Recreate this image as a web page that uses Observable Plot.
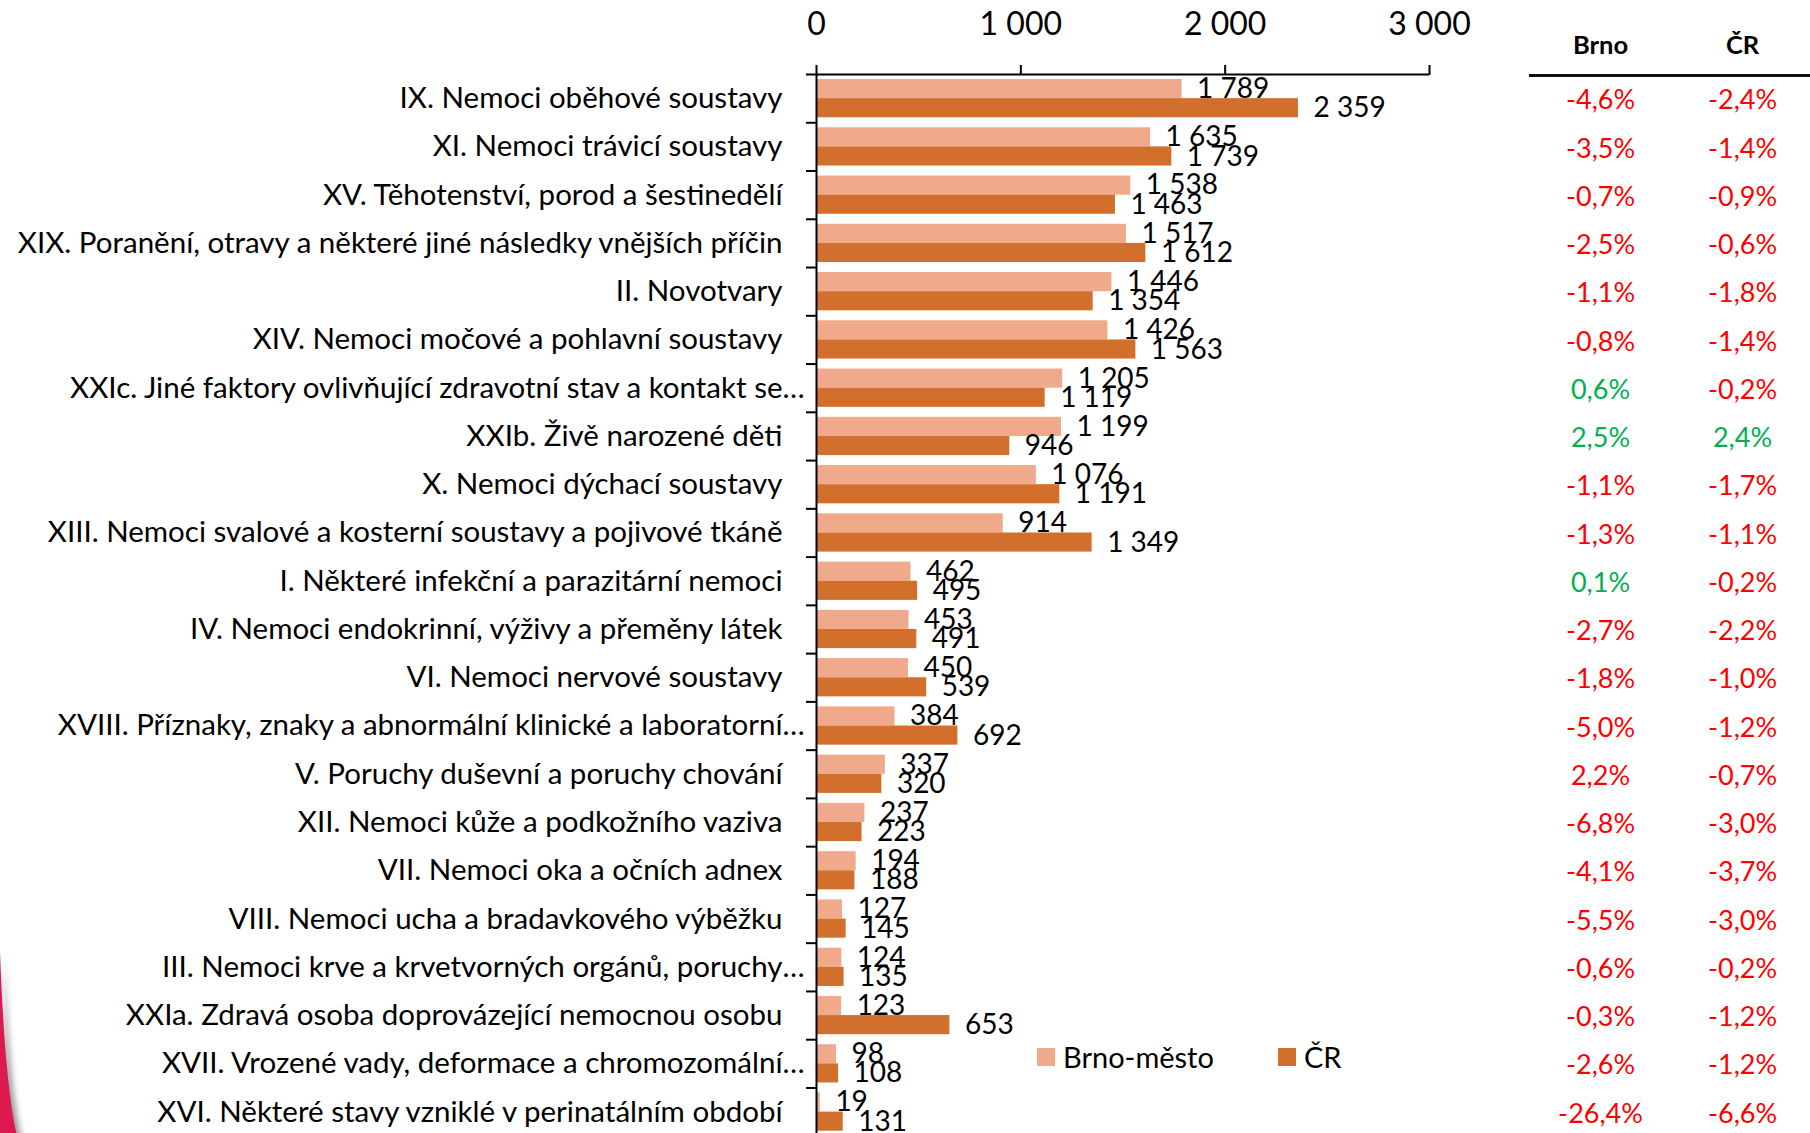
<!DOCTYPE html>
<html>
<head>
<meta charset="utf-8">
<script src="https://cdn.jsdelivr.net/npm/d3@7"></script>
<script src="https://cdn.jsdelivr.net/npm/@observablehq/plot@0.6"></script>
<style>
  html, body { margin: 0; padding: 0; background: #fff; }
  #wrap { position: relative; width: 1810px; height: 1133px; overflow: hidden; font-family: Lato, sans-serif; background: #fff; }
  #chart, #table { position: absolute; top: 0; }
  #chart { left: 0; }
  #table { left: 1529px; }
  #legend { position: absolute; left: 1037px; top: 1042px; display: flex; align-items: center; font-size: 29px; line-height: 30px; color: #000; }
  #legend .item { display: flex; align-items: center; margin-right: 64px; }
  #legend .sw { width: 18px; height: 18px; margin-right: 8px; }
  #deco { position: absolute; left: 0; top: 940px; }
</style>
</head>
<body>
<div id="wrap">
  <div id="chart"></div>
  <div id="table"></div>
  <div id="legend"></div>
  <svg id="deco" width="60" height="200">
    <defs><filter id="sh" x="-50%" y="-10%" width="200%" height="130%"><feGaussianBlur stdDeviation="3"/></filter></defs>
    <path d="M0,12 C3,90 8,160 18,200 L0,200 Z" fill="#9a9a9a" filter="url(#sh)" transform="translate(4,0)"/>
    <path d="M0,12 C3,90 8,160 18,200 L0,200 Z" fill="#DC1A50"/>
  </svg>
</div>
<script>
// ---- data ----
const categories = [
  "IX. Nemoci oběhové soustavy",
  "XI. Nemoci trávicí soustavy",
  "XV. Těhotenství, porod a šestinedělí",
  "XIX. Poranění, otravy a některé jiné následky vnějších příčin",
  "II. Novotvary",
  "XIV. Nemoci močové a pohlavní soustavy",
  "XXIc. Jiné faktory ovlivňující zdravotní stav a kontakt se…",
  "XXIb. Živě narozené děti",
  "X. Nemoci dýchací soustavy",
  "XIII. Nemoci svalové a kosterní soustavy a pojivové tkáně",
  "I. Některé infekční a parazitární nemoci",
  "IV. Nemoci endokrinní, výživy a přeměny látek",
  "VI. Nemoci nervové soustavy",
  "XVIII. Příznaky, znaky a abnormální klinické a laboratorní…",
  "V. Poruchy duševní a poruchy chování",
  "XII. Nemoci kůže a podkožního vaziva",
  "VII. Nemoci oka a očních adnex",
  "VIII. Nemoci ucha a bradavkového výběžku",
  "III. Nemoci krve a krvetvorných orgánů, poruchy…",
  "XXIa. Zdravá osoba doprovázející nemocnou osobu",
  "XVII. Vrozené vady, deformace a chromozomální…",
  "XVI. Některé stavy vzniklé v perinatálním období"
];
const brnoValues = [1789, 1635, 1538, 1517, 1446, 1426, 1205, 1199, 1076, 914, 462, 453, 450, 384, 337, 237, 194, 127, 124, 123, 98, 19];
const crValues   = [2359, 1739, 1463, 1612, 1354, 1563, 1119, 946, 1191, 1349, 495, 491, 539, 692, 320, 223, 188, 145, 135, 653, 108, 131];
const brnoChange = [-4.6, -3.5, -0.7, -2.5, -1.1, -0.8, 0.6, 2.5, -1.1, -1.3, 0.1, -2.7, -1.8, -5.0, 2.2, -6.8, -4.1, -5.5, -0.6, -0.3, -2.6, -26.4];
const crChange   = [-2.4, -1.4, -0.9, -0.6, -1.8, -1.4, -0.2, 2.4, -1.7, -1.1, -0.2, -2.2, -1.0, -1.2, -0.7, -3.0, -3.7, -3.0, -0.2, -1.2, -1.2, -6.6];
// the source's conditional formatting shows this Brno change in red although it is positive
const brnoShownRed = ["V. Poruchy duševní a poruchy chování"];
const xTicks = [0, 1000, 2000, 3000];
const seriesNames = ["Brno-město", "ČR"];
const columnHeads = ["Brno", "ČR"];

// ---- styles ----
const lightColor = "#F0A98A";
const darkColor = "#D26F2D";
const redColor = "#FF0000";
const greenColor = "#00B050";

const locale = d3.formatLocale({decimal: ",", thousands: "\u00a0", grouping: [3], currency: ["", ""], minus: "-"});
const fmtNum = locale.format(",d");
const fmtPct = v => locale.format(".1f")(v) + "%";
const ELL = "…";

const rows = categories.map((name, i) => ({
  i, name,
  main: name.endsWith(ELL) ? name.slice(0, -1) : name,
  truncated: name.endsWith(ELL),
  brno: brnoValues[i], cr: crValues[i],
  brnoChange: brnoChange[i], crChange: crChange[i]
}));

const ROWS = categories.length;
const BAND = 48.26;
const yScale = {domain: [0, ROWS], range: [74, 74 + ROWS * BAND], label: null};
const baseStyle = {fontFamily: "Lato, sans-serif", color: "#000", background: "transparent"};
const LABEL_FS = 29.5;

const chart = Plot.plot({
  width: 1810, height: 1133,
  marginLeft: 816, marginRight: 381, marginTop: 74, marginBottom: 0,
  style: baseStyle,
  x: {domain: [0, 3000], label: null},
  y: yScale,
  marks: [
    Plot.rect(rows, {x1: 0, x2: "brno", y1: "i", y2: d => d.i + 0.5, insetTop: 5, fill: lightColor}),
    Plot.rect(rows, {x1: 0, x2: "cr", y1: d => d.i + 0.5, y2: d => d.i + 1, insetBottom: 5, fill: darkColor}),
    Plot.ruleX([0], {stroke: "#000", strokeWidth: 2}),
    Plot.ruleY([0], {x1: 0, x2: 3000, stroke: "#000", strokeWidth: 2}),
    Plot.axisX({anchor: "top", ticks: xTicks, tickSize: 10, tickPadding: 30, tickFormat: fmtNum, fontSize: 32, strokeWidth: 2, stroke: "#000", label: null}),
    Plot.axisY({anchor: "left", ticks: d3.range(ROWS + 1), tickSize: 10, tickFormat: () => "", strokeWidth: 2, stroke: "#000", label: null}),
    Plot.text(rows, {x: "brno", y: d => d.i + 0.3, text: d => fmtNum(d.brno), textAnchor: "start", dx: 15, fontSize: 28, fill: "#000"}),
    Plot.text(rows, {x: "cr", y: d => d.i + 0.7, text: d => fmtNum(d.cr), textAnchor: "start", dx: 15, fontSize: 28, fill: "#000"}),
    Plot.text(rows, {x: 0, y: d => d.i + 0.5, text: "main", textAnchor: "end", dx: -34, fontSize: LABEL_FS, fill: "#000"}),
    Plot.text(rows.filter(d => d.truncated), {x: 0, y: d => d.i + 0.5, text: () => ELL, textAnchor: "start", dx: -34, fontSize: LABEL_FS, fill: "#000"})
  ]
});
document.getElementById("chart").append(chart);

const pctColor = (v, name, isBrno) =>
  (isBrno && brnoShownRed.includes(name)) ? redColor : (v > 0 ? greenColor : redColor);

const table = Plot.plot({
  width: 281, height: 1133,
  marginLeft: 0, marginRight: 0, marginTop: 74, marginBottom: 0,
  style: baseStyle,
  x: {type: "point", domain: columnHeads, range: [71, 213], padding: 0, axis: null},
  y: {...yScale, axis: null},
  color: {type: "identity"},
  marks: [
    Plot.ruleY([0], {stroke: "#111", strokeWidth: 3, dy: 1}),
    Plot.text(columnHeads, {x: d => d, frameAnchor: "top", dy: -39, fontWeight: "bold", fontSize: 25.5, fill: "#000"}),
    Plot.text(rows, {x: () => columnHeads[0], y: d => d.i + 0.5, dy: 2, text: d => fmtPct(d.brnoChange), fill: d => pctColor(d.brnoChange, d.name, true), fontSize: 27}),
    Plot.text(rows, {x: () => columnHeads[1], y: d => d.i + 0.5, dy: 2, text: d => fmtPct(d.crChange), fill: d => pctColor(d.crChange, d.name, false), fontSize: 27})
  ]
});
document.getElementById("table").append(table);

// legend
const legend = document.getElementById("legend");
[lightColor, darkColor].forEach((c, k) => {
  const item = document.createElement("div");
  item.className = "item";
  const sw = document.createElement("span");
  sw.className = "sw";
  sw.style.background = c;
  const t = document.createElement("span");
  t.textContent = seriesNames[k];
  item.append(sw, t);
  legend.append(item);
});
</script>
</body>
</html>
